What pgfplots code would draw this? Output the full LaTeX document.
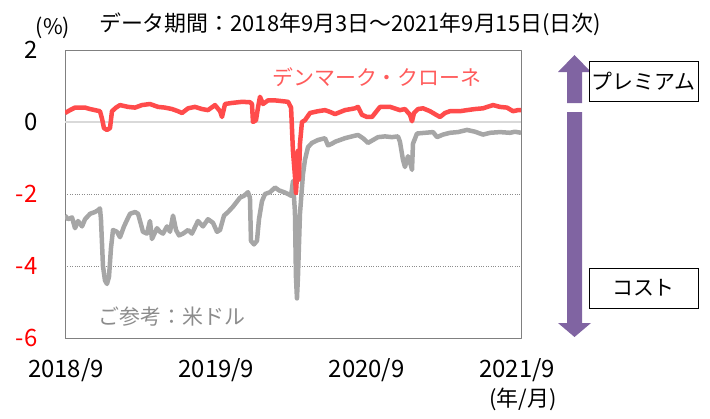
\documentclass[border=0pt]{standalone}
\usepackage{pgfplots}
\pgfplotsset{compat=1.18}
\usepackage{fontspec}
\setmainfont{Noto Sans CJK JP}
\definecolor{dkred}{HTML}{FF4B4B}
\definecolor{usgray}{HTML}{A6A6A6}
\definecolor{arrowpurple}{HTML}{8064A2}
\definecolor{labelred}{HTML}{FF5B5B}
\definecolor{tickred}{HTML}{FF0000}
\begin{document}
\begin{tikzpicture}[x=1bp,y=1bp]
\useasboundingbox (0,0) rectangle (710,418);
\begin{axis}[at={(65bp,80bp)}, anchor=south west,
  width=456bp, height=288bp, scale only axis,
  xmin=-0.08, xmax=36.31, ymin=-6, ymax=2,
  xtick={0,12,24,36}, xticklabels={2018/9,2019/9,2020/9,2021/9},
  ytick={-6,-4,-2,2},
  yticklabels={\textcolor{tickred}{-6},\textcolor{tickred}{-4},\textcolor{tickred}{-2},2},
  extra y ticks={0}, extra y tick labels={0},
  extra y tick style={ymajorgrids=true, major grid style={draw=black!15, line width=1.5bp, solid}},
  ymajorgrids=true,
  major grid style={draw=black!45, dotted, line width=0.8bp},
  major tick length=0pt,
  axis line style={draw=black!50, line width=0.8bp},
  tick label style={font=\fontsize{24}{28}\selectfont},
  xticklabel style={yshift=-17bp},
  yticklabel style={xshift=-24bp},
  line join=round,
]
\addplot[usgray, line width=4.5bp] coordinates {
(-0.08,-2.6) (0.16,-2.7) (0.48,-2.65) (0.72,-2.95) (0.96,-2.75) (1.28,-2.9) (1.52,-2.7) (1.92,-2.55) (2.31,-2.5) (2.55,-2.45) (2.71,-2.4) (2.79,-2.7) (2.95,-4.0) (3.11,-4.4) (3.27,-4.5) (3.43,-4.3) (3.59,-3.5) (3.75,-3.0) (4.07,-3.05) (4.31,-3.2) (4.63,-2.9) (4.87,-2.72) (5.11,-2.55) (5.51,-2.5) (5.75,-2.55) (5.99,-2.85) (6.14,-3.05) (6.46,-3.1) (6.70,-2.75) (6.86,-3.25) (7.26,-2.95) (7.50,-3.05) (7.74,-3.1) (8.06,-2.9) (8.30,-3.05) (8.54,-2.6) (8.78,-3.0) (9.02,-3.15) (9.34,-3.1) (9.74,-3.0) (10.05,-3.1) (10.53,-2.75) (10.93,-2.9) (11.33,-2.7) (11.73,-2.8) (12.05,-3.05) (12.29,-3.0) (12.61,-2.6) (12.93,-2.5) (13.33,-2.35) (13.89,-2.1) (14.20,-2.05) (14.52,-1.95) (14.68,-2.1) (14.76,-3.3) (15.00,-3.4) (15.24,-3.3) (15.40,-2.7) (15.64,-2.2) (15.88,-2.0) (16.28,-1.95) (16.68,-1.82) (17.00,-1.9) (17.40,-1.95) (17.72,-2.0) (17.96,-2.05) (18.11,-1.65) (18.27,-2.5) (18.35,-4.3) (18.43,-4.9) (18.51,-4.3) (18.67,-2.55) (18.91,-1.45) (19.07,-1.05) (19.31,-0.7) (19.63,-0.58) (20.11,-0.5) (20.67,-0.45) (20.91,-0.65) (21.23,-0.6) (21.47,-0.55) (22.26,-0.45) (22.82,-0.4) (23.30,-0.36) (23.70,-0.45) (24.10,-0.58) (24.50,-0.5) (24.90,-0.42) (25.46,-0.4) (26.01,-0.42) (26.49,-0.4) (26.65,-0.55) (26.89,-1.05) (27.05,-1.25) (27.29,-0.95) (27.45,-1.1) (27.61,-1.33) (27.69,-0.6) (28.01,-0.32) (28.65,-0.3) (29.29,-0.28) (29.61,-0.42) (30.08,-0.35) (30.64,-0.3) (31.28,-0.28) (32.00,-0.22) (32.64,-0.27) (33.28,-0.35) (33.84,-0.3) (34.63,-0.28) (35.43,-0.3) (35.83,-0.27) (36.31,-0.3)
};
\addplot[dkred, line width=4.5bp] coordinates {
(-0.08,0.25) (0.32,0.33) (0.72,0.4) (1.52,0.4) (1.92,0.36) (2.31,0.33) (2.71,0.3) (2.87,0.1) (3.03,-0.17) (3.27,-0.22) (3.51,-0.17) (3.67,0.3) (3.99,0.4) (4.31,0.47) (4.95,0.42) (5.51,0.4) (6.06,0.47) (6.70,0.5) (7.34,0.42) (7.90,0.4) (8.46,0.36) (8.94,0.3) (9.26,0.25) (9.74,0.38) (10.29,0.42) (10.85,0.36) (11.33,0.33) (11.89,0.47) (12.29,0.3) (12.45,0.14) (12.69,0.5) (13.25,0.53) (14.04,0.56) (14.68,0.55) (14.84,0.5) (14.92,0.0) (15.16,0.05) (15.32,0.4) (15.48,0.7) (15.72,0.5) (16.12,0.6) (16.68,0.6) (17.24,0.58) (17.72,0.56) (17.96,0.4) (18.11,-0.8) (18.27,-1.5) (18.35,-1.97) (18.43,-1.5) (18.51,-0.8) (18.59,-1.6) (18.67,-0.6) (18.83,0.0) (19.07,0.05) (19.47,0.25) (20.11,0.3) (20.67,0.33) (21.07,0.28) (21.47,0.22) (22.26,0.33) (23.06,0.38) (23.30,0.42) (23.62,0.2) (24.02,0.14) (24.42,0.14) (25.06,0.42) (25.86,0.42) (26.65,0.33) (27.05,0.36) (27.45,0.2) (27.61,0.02) (27.77,0.25) (28.09,0.36) (28.49,0.38) (29.05,0.3) (29.53,0.2) (29.85,0.14) (30.24,0.25) (30.64,0.3) (31.44,0.3) (32.00,0.33) (32.64,0.36) (33.28,0.38) (34.07,0.47) (34.63,0.42) (35.19,0.4) (35.67,0.3) (36.07,0.33) (36.31,0.33)
};
\end{axis}
% texts
\node[font=\fontsize{22}{26}\selectfont] at (350,394) {データ期間：2018年9月3日～2021年9月15日(日次)};
\node[font=\fontsize{21.5}{25}\selectfont] at (53,390) {(\%)};
\node[font=\fontsize{22}{26}\selectfont] at (523,19) {(年/月)};
\node[font=\fontsize{21}{25}\selectfont, text=labelred] at (377,341) {デンマーク・クローネ};
\node[font=\fontsize{21}{25}\selectfont, text=black!45] at (172,101) {ご参考：米ドル};
% arrows
\fill[arrowpurple] (567,315) -- (567,346) -- (558,346) -- (574.5,363) -- (591,346) -- (582,346) -- (582,315) -- cycle;
\fill[arrowpurple] (567,306) -- (567,95) -- (558,95) -- (574.5,81) -- (591,95) -- (582,95) -- (582,306) -- cycle;
% boxes
\draw[black, line width=0.8bp, fill=white] (589,317) rectangle (698,357);
\node[font=\fontsize{21}{25}\selectfont] at (643.5,337) {プレミアム};
\draw[black, line width=0.8bp, fill=white] (589,110) rectangle (698,150);
\node[font=\fontsize{21}{25}\selectfont] at (643.5,130) {コスト};
\end{tikzpicture}
\end{document}
